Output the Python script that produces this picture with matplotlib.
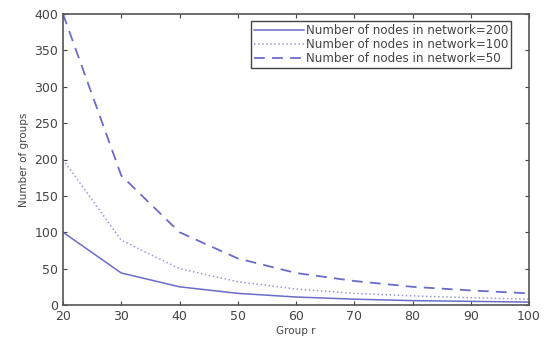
import matplotlib.pyplot as plt

group_r = [20, 30, 40, 50, 60, 70, 80, 90, 100]
nodes_200 = [100, 44, 25, 16, 11, 8, 6, 5, 4]
nodes_100 = [200, 89, 50, 32, 22, 16, 12.5, 10, 8]
nodes_50 = [400, 178, 100, 64, 44, 33, 25, 20, 16]

col = '#6b6bc8'

fig = plt.figure(figsize=(5.44, 3.38), dpi=100)
ax = fig.add_axes([63 / 544, 1 - 305 / 338, (529 - 63) / 544, (305 - 14) / 338])

ax.plot(group_r, nodes_200, '-', color=col, lw=1.1, label='Number of nodes in network=200')
ax.plot(group_r, nodes_100, ':', color='#9a9ad8', lw=1.1, label='Number of nodes in network=100')
ax.plot(group_r, nodes_50, '--', color=col, lw=1.3, dashes=(6, 4), label='Number of nodes in network=50')

ax.set_xlim(20, 100)
ax.set_ylim(0, 400)
ax.set_xticks(range(20, 101, 10))
ax.set_yticks(range(0, 401, 50))
ax.tick_params(direction='in', top=True, right=True, labelsize=9, colors='#444444', length=3)
for s in ax.spines.values():
    s.set_color('#555555')
    s.set_linewidth(1.2)

ax.set_xlabel('Group r', fontsize=7.5, color='#444444', labelpad=2)
ax.set_ylabel('Number of groups', fontsize=7.5, color='#444444', labelpad=4)

leg = ax.legend(loc='upper right', bbox_to_anchor=(511 / 544, 1 - 21 / 338),
                bbox_transform=fig.transFigure, borderaxespad=0,
                fontsize=8.6, fancybox=False, framealpha=1,
                edgecolor='#444444', handlelength=4.2, borderpad=0.25,
                labelspacing=0.1, handletextpad=0.15)
for t in leg.get_texts():
    t.set_color('#444444')

fig.savefig('out.png', dpi=100)
